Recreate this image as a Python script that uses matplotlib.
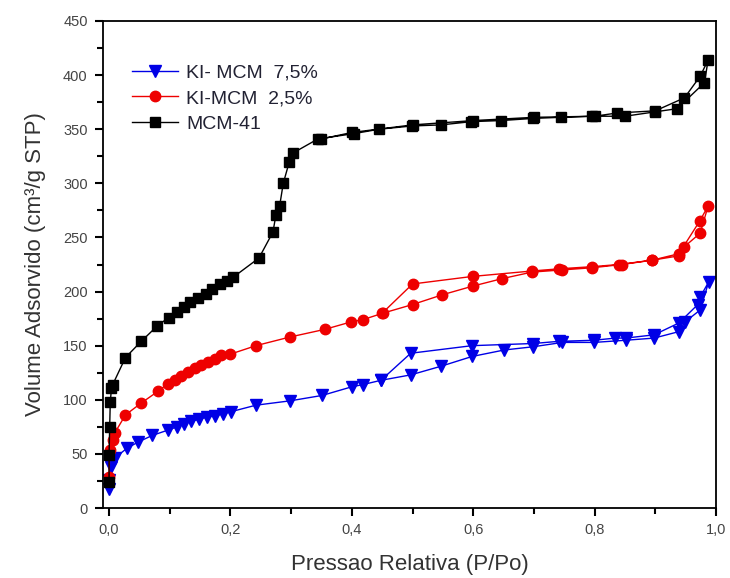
import matplotlib
matplotlib.use("Agg")
import matplotlib.pyplot as plt
from matplotlib.ticker import MultipleLocator, FuncFormatter

# ---- data ----
labels = ["KI- MCM  7,5%", "KI-MCM  2,5%", "MCM-41"]

ki75_ads_x = [0.0, 0.0, 0.004, 0.009, 0.029, 0.048, 0.071, 0.097, 0.112, 0.123, 0.135, 0.148,
              0.161, 0.174, 0.187, 0.201, 0.242, 0.298, 0.351, 0.40, 0.418, 0.448, 0.497,
              0.547, 0.598, 0.651, 0.699, 0.747, 0.799, 0.851, 0.898, 0.939, 0.949, 0.974, 0.988]
ki75_ads_y = [18, 26, 38, 46, 55, 61, 67, 72, 75, 78, 80, 82, 84, 85, 87, 89, 95, 99, 104, 112,
              114, 118, 123, 131, 140, 146, 149, 153, 153, 155, 157, 163, 172, 183, 209]
ki75_des_x = [0.974, 0.97, 0.939, 0.898, 0.851, 0.834, 0.799, 0.741, 0.699, 0.598, 0.497, 0.448]
ki75_des_y = [195, 188, 171, 160, 157, 157, 155, 154, 152, 150, 143, 118]

ki25_ads_x = [0.0, 0.001, 0.007, 0.009, 0.027, 0.053, 0.081, 0.097, 0.108, 0.119, 0.13, 0.141,
              0.152, 0.163, 0.174, 0.185, 0.199, 0.242, 0.298, 0.355, 0.399, 0.418, 0.451,
              0.50, 0.549, 0.599, 0.648, 0.697, 0.747, 0.796, 0.845, 0.895, 0.939, 0.947,
              0.974, 0.987]
ki25_ads_y = [29, 54, 63, 69, 86, 97, 108, 115, 118, 122, 126, 129, 132, 135, 138, 141, 142,
              150, 158, 165, 172, 174, 180, 188, 197, 205, 212, 218, 220, 222, 225, 229, 233,
              241, 254, 279]
ki25_des_x = [0.973, 0.939, 0.895, 0.84, 0.796, 0.741, 0.697, 0.599, 0.50, 0.45]
ki25_des_y = [265, 235, 229, 225, 223, 221, 219, 214, 207, 180]

mcm_ads_x = [0.0, 0.0, 0.001, 0.002, 0.004, 0.006, 0.027, 0.053, 0.079, 0.098, 0.112, 0.123,
             0.134, 0.146, 0.159, 0.170, 0.183, 0.194, 0.204, 0.247, 0.270, 0.275, 0.281,
             0.287, 0.297, 0.303, 0.344, 0.404, 0.445, 0.499, 0.547, 0.597, 0.646, 0.699,
             0.744, 0.796, 0.850, 0.899, 0.936, 0.981, 0.987]
mcm_ads_y = [24, 49, 75, 98, 111, 114, 139, 154, 168, 176, 181, 186, 190, 194, 198, 202, 207,
             210, 213, 231, 255, 271, 279, 300, 320, 328, 341, 346, 350, 353, 354, 357, 358,
             360, 361, 362, 362, 366, 369, 393, 414]
mcm_des_x = [0.974, 0.948, 0.90, 0.837, 0.80, 0.70, 0.60, 0.50, 0.40, 0.35]
mcm_des_y = [399, 379, 367, 365, 362, 361, 358, 354, 347, 341]

x_ticks = [0.0, 0.2, 0.4, 0.6, 0.8, 1.0]
y_ticks = [0, 50, 100, 150, 200, 250, 300, 350, 400, 450]

plt.rcParams['font.family'] = ['Liberation Sans', 'DejaVu Sans']

fig = plt.figure(figsize=(7.30, 5.78), dpi=100)
ax = fig.add_axes([103/730, 1 - 508/578, (716-103)/730, (508-21)/578])

series = [
    (ki75_ads_x + ki75_des_x, ki75_ads_y + ki75_des_y, '#0000e6', 'v', 8),
    (ki25_ads_x + ki25_des_x, ki25_ads_y + ki25_des_y, '#ee0000', 'o', 7.5),
    (mcm_ads_x + mcm_des_x, mcm_ads_y + mcm_des_y, '#000000', 's', 7),
]
for (xs, ys, c, m, ms), lab in zip(series, labels):
    ax.plot(xs, ys, color=c, marker=m, markersize=ms, markeredgecolor=c,
            markerfacecolor=c, linewidth=1.0, label=lab)

ax.set_xlim(-0.01, 1.0)
ax.set_ylim(0, 450)
ax.set_xticks(x_ticks)
ax.set_yticks(y_ticks)
ax.xaxis.set_minor_locator(MultipleLocator(0.1))
ax.yaxis.set_minor_locator(MultipleLocator(25))
ax.xaxis.set_major_formatter(FuncFormatter(lambda v, p: f"{v:.1f}".replace('.', ',')))
ax.tick_params(axis='both', which='major', direction='out', length=6, width=1.5,
               labelsize=10.5, labelcolor='#444444', pad=5)
ax.tick_params(axis='both', which='minor', direction='out', length=4, width=1.5)
for s in ax.spines.values():
    s.set_linewidth(1.3)

ax.set_xlabel("Pressao Relativa (P/Po)", fontsize=16, color='#333333', labelpad=12)
ax.set_ylabel("Volume Adsorvido (cm³/g STP)", fontsize=16, color='#333333', labelpad=12)

leg = ax.legend(loc='upper left', bbox_to_anchor=(0.047, 0.912), frameon=False,
                fontsize=14, handlelength=2.4, handletextpad=0.4, labelspacing=0.42,
                borderpad=0, borderaxespad=0)
for t in leg.get_texts():
    t.set_color('#222233')

fig.savefig("out.png", dpi=100)
